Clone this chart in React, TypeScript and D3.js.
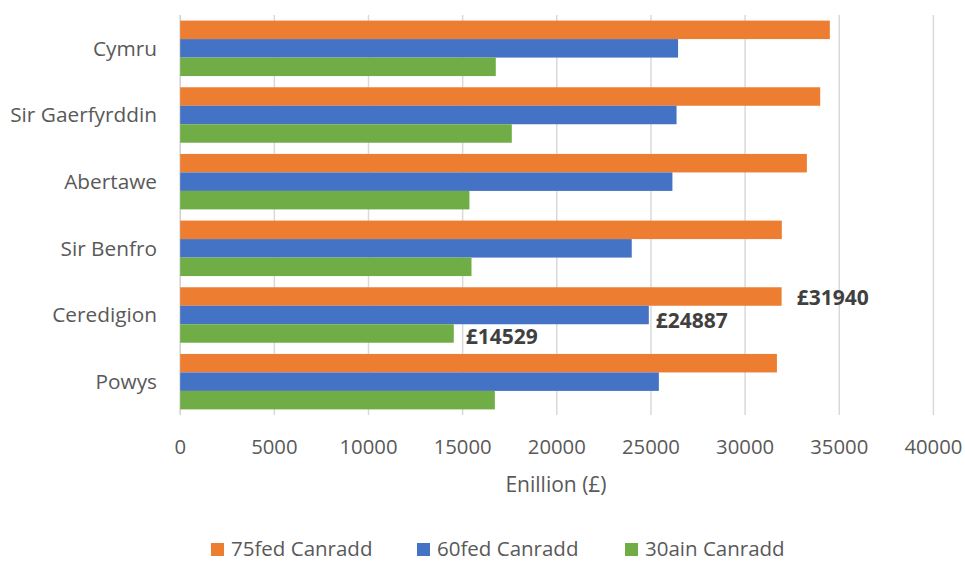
import React from "react";
import * as d3 from "d3";

const categories = ["Cymru", "Sir Gaerfyrddin", "Abertawe", "Sir Benfro", "Ceredigion", "Powys"];
const seriesNames = ["75fed Canradd", "60fed Canradd", "30ain Canradd"];
const p75 = [34500, 33990, 33280, 31950, 31940, 31690];
const p60 = [26440, 26360, 26140, 23980, 24887, 25420];
const p30 = [16760, 17610, 15360, 15470, 14529, 16710];
const xTicks = [0, 5000, 10000, 15000, 20000, 25000, 30000, 35000, 40000];
const labelledCategory = "Ceredigion";

const colors = ["#ED7D31", "#4472C4", "#70AD47"];
const FONT = "'Open Sans', sans-serif";

export default function App() {
  const W = 965, H = 563;
  const seriesValues = [p75, p60, p30];
  const x = d3.scaleLinear().domain([0, 40000]).range([180.2, 933.4]);
  const y = d3.scaleBand<string>().domain(categories).range([15, 415]).paddingInner(0.168).paddingOuter(0.084);
  const inner = d3.scaleBand<string>().domain(seriesNames).range([0, y.bandwidth()]);
  const labelDx = [15, 7, 12];
  const labelDy = [1, 6, 3];
  const legendX = [211, 417, 625];

  return (
    <svg width={W} height={H} style={{ position: "absolute", left: 0, top: 0, background: "#fff" }}>
      {xTicks.map((t) => (
        <line key={"g" + t} x1={x(t)} x2={x(t)} y1={15} y2={415} stroke={t === 0 ? "#d0d0d0" : "#d9d9d9"} strokeWidth={1.5} />
      ))}
      {categories.map((c, ci) =>
        seriesNames.map((s, si) => {
          const v = seriesValues[si][ci];
          const yy = (y(c) as number) + (inner(s) as number);
          return (
            <rect key={c + s} x={x(0)} y={yy} width={x(v) - x(0)} height={inner.bandwidth()} fill={colors[si]} />
          );
        })
      )}
      {seriesNames.map((s, si) => {
        const ci = categories.indexOf(labelledCategory);
        const v = seriesValues[si][ci];
        const yy = (y(labelledCategory) as number) + (inner(s) as number) + inner.bandwidth() / 2;
        return (
          <text key={"l" + s} x={x(v) + labelDx[si]} y={yy + labelDy[si]} dy="0.35em" fontFamily={FONT} fontWeight="bold" fontSize={21} fill="#404040">
            £{v}
          </text>
        );
      })}
      {categories.map((c) => (
        <text key={"c" + c} x={157} y={(y(c) as number) + y.bandwidth() / 2} dy="0.35em" textAnchor="end" fontFamily={FONT} fontSize={20.8} fill="#595959">
          {c}
        </text>
      ))}
      {xTicks.map((t) => (
        <text key={"t" + t} x={x(t)} y={447} dy="0.35em" textAnchor="middle" fontFamily={FONT} fontSize={20.3} fill="#595959">
          {t}
        </text>
      ))}
      <text x={556} y={485} dy="0.35em" textAnchor="middle" fontFamily={FONT} fontSize={21} fill="#595959">
        Enillion (£)
      </text>
      {seriesNames.map((s, si) => (
        <g key={"lg" + s}>
          <rect x={legendX[si]} y={543} width={13} height={13} fill={colors[si]} />
          <text x={legendX[si] + 20} y={549} dy="0.35em" fontFamily={FONT} fontSize={20.5} fill="#595959">
            {s}
          </text>
        </g>
      ))}
    </svg>
  );
}
